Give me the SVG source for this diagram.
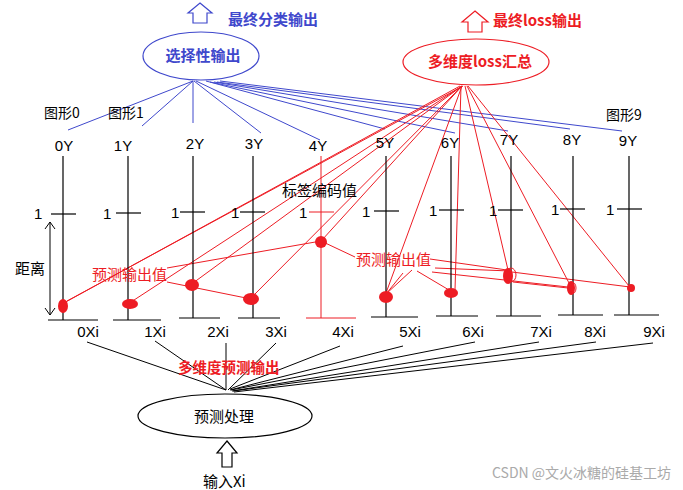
<svg xmlns="http://www.w3.org/2000/svg" width="683" height="490" viewBox="0 0 683 490">
<style>
text{font-family:"Liberation Sans","Noto Sans CJK SC",sans-serif;font-size:15px;fill:#000}
.cn{font-family:"Noto Sans CJK SC","Liberation Sans",sans-serif}
.b{font-weight:bold}
.blue{fill:#3f48cc}
.red{fill:#ed1c24}
.gray{fill:#aaa;font-size:14px}
.k{stroke:#000;stroke-width:1.2;fill:none}
.kl{stroke:#000;stroke-width:1;fill:none}
.bl{stroke:#3f48cc;stroke-width:1;fill:none}
.rl{stroke:#ed1c24;stroke-width:1;fill:none}
.dot{fill:#ed1c24}
.m{text-anchor:middle}
</style>
<rect width="683" height="490" fill="#fff"/>

<!-- connectors -->
<g id="connectors">
  <!-- blue: selective output to Y -->
  <g class="bl">
    <line x1="193" y1="81" x2="68" y2="130"/>
    <line x1="193" y1="81" x2="142" y2="126"/>
    <line x1="193" y1="81" x2="193" y2="123"/>
    <line x1="194" y1="81" x2="261" y2="133"/>
    <line x1="196" y1="81" x2="320" y2="140"/>
    <line x1="206" y1="81" x2="385" y2="129"/>
    <line x1="210" y1="82" x2="455" y2="133"/>
    <line x1="214" y1="82" x2="508" y2="131"/>
    <line x1="217" y1="82" x2="570" y2="129"/>
    <line x1="220" y1="81" x2="622" y2="131"/>
  </g>
  <!-- red: loss to predictions -->
  <g class="rl">
    <line x1="460" y1="86" x2="62" y2="304"/>
    <line x1="463" y1="86" x2="67" y2="301"/>
    <line x1="462" y1="86" x2="131" y2="302"/>
    <line x1="462" y1="86" x2="193" y2="283"/>
    <line x1="462" y1="86" x2="252" y2="297"/>
    <line x1="462" y1="86" x2="322" y2="240"/>
    <line x1="462" y1="86" x2="386" y2="293"/>
    <line x1="461" y1="86" x2="455" y2="290"/>
    <line x1="465" y1="86" x2="508" y2="270"/>
    <line x1="467" y1="86" x2="569" y2="283"/>
    <line x1="468" y1="86" x2="629" y2="286"/>
    <!-- prediction value labels -->
    <line x1="167" y1="268" x2="321" y2="241"/>
    <line x1="167" y1="282" x2="251" y2="299"/>
    <line x1="355" y1="257" x2="321" y2="241"/>
    <line x1="403" y1="273" x2="386" y2="294"/>
    <line x1="412" y1="270" x2="386" y2="294"/>
    <line x1="417" y1="271" x2="449" y2="290"/>
    <line x1="430" y1="259" x2="507" y2="270"/>
    <line x1="435" y1="268" x2="510" y2="271"/>
    <line x1="432" y1="272" x2="568" y2="287"/>
    <line x1="512" y1="272" x2="630" y2="287"/>
    <line x1="513" y1="282" x2="568" y2="288"/>
  </g>
  <!-- black: processing to Xi -->
  <g class="kl">
    <line x1="87" y1="342" x2="226" y2="390"/>
    <line x1="155" y1="341" x2="226" y2="390"/>
    <line x1="226" y1="343" x2="226" y2="390"/>
    <line x1="276" y1="343" x2="228" y2="390"/>
    <line x1="340" y1="346" x2="230" y2="389"/>
    <line x1="403" y1="346" x2="230" y2="390"/>
    <line x1="475" y1="342" x2="231" y2="390"/>
    <line x1="539" y1="342" x2="232" y2="391"/>
    <line x1="596" y1="342" x2="233" y2="391"/>
    <line x1="653" y1="343" x2="234" y2="392"/>
  </g>
</g>

<!-- top arrows and titles -->
<g id="final-class-output">
  <polygon points="200,3 212,13 207,13 207,23 193,23 193,13 188,13" fill="#fff" stroke="#3f48cc" stroke-width="1.2"/>
  <text class="cn b blue" x="228" y="25">最终分类输出</text>
</g>
<g id="final-loss-output">
  <polygon points="475,11 488,22 482,22 482,32 468,32 468,22 462,22" fill="#fff" stroke="#ed1c24" stroke-width="1.2"/>
  <text class="cn b red" x="493" y="26">最终loss输出</text>
</g>

<g id="select-output">
  <ellipse cx="201" cy="56" rx="58" ry="24" fill="none" stroke="#3f48cc" stroke-width="1.2"/>
  <text class="cn b blue m" x="203" y="61">选择性输出</text>
</g>
<g id="loss-sum">
  <ellipse cx="476" cy="62" rx="73" ry="23" fill="none" stroke="#ed1c24" stroke-width="1.2"/>
  <text class="cn b red m" x="480" y="67">多维度loss汇总</text>
</g>

<g id="shape-labels">
  <text class="cn" x="44" y="118" style="font-size:14px">图形0</text>
  <text class="cn" x="108" y="118" style="font-size:14px">图形1</text>
  <text class="cn" x="606" y="120" style="font-size:14px">图形9</text>
</g>

<!-- columns -->
<g id="col0">
  <text class="m" x="64" y="151">0Y</text>
  <line class="k" x1="63" y1="156" x2="63" y2="320"/>
  <line class="k" x1="51" y1="214" x2="76" y2="214"/>
  <text x="34" y="219">1</text>
  <line class="k" x1="48" y1="320" x2="98" y2="320"/>
  <text class="m" x="88" y="337">0Xi</text>
  <ellipse class="dot" cx="63" cy="306" rx="5" ry="7"/>
</g>
<g id="col1">
  <text class="m" x="123" y="151">1Y</text>
  <line class="k" x1="128" y1="156" x2="128" y2="320"/>
  <line class="k" x1="116" y1="213" x2="141" y2="213"/>
  <text x="103" y="219">1</text>
  <line class="k" x1="113" y1="320" x2="161" y2="320"/>
  <text class="m" x="155" y="337">1Xi</text>
  <ellipse class="dot" cx="130" cy="304" rx="8" ry="5"/>
</g>
<g id="col2">
  <text class="m" x="195" y="149">2Y</text>
  <line class="k" x1="193" y1="156" x2="193" y2="318"/>
  <line class="k" x1="180" y1="212" x2="205" y2="212"/>
  <text x="171" y="218">1</text>
  <line class="k" x1="179" y1="318" x2="220" y2="318"/>
  <text class="m" x="218" y="337">2Xi</text>
  <ellipse class="dot" cx="192" cy="285" rx="7" ry="6"/>
</g>
<g id="col3">
  <text class="m" x="254" y="149">3Y</text>
  <line class="k" x1="253" y1="156" x2="253" y2="318"/>
  <line class="k" x1="240" y1="212" x2="265" y2="212"/>
  <text x="231" y="218">1</text>
  <line class="k" x1="238" y1="318" x2="280" y2="318"/>
  <text class="m" x="276" y="337">3Xi</text>
  <ellipse class="dot" cx="251" cy="299" rx="8" ry="6"/>
</g>
<g id="col4">
  <text class="m" x="318" y="151">4Y</text>
  <line class="rl" x1="321" y1="156" x2="321" y2="318"/>
  <line class="rl" x1="309" y1="212" x2="334" y2="212"/>
  <text x="299" y="218">1</text>
  <line class="rl" x1="306" y1="318" x2="356" y2="318"/>
  <text class="m" x="343" y="337">4Xi</text>
  <ellipse class="dot" cx="321" cy="242" rx="6" ry="6"/>
</g>
<g id="col5">
  <text class="m" x="385" y="148">5Y</text>
  <line class="k" x1="386" y1="156" x2="386" y2="317"/>
  <line class="k" x1="374" y1="211" x2="399" y2="211"/>
  <text x="362" y="217">1</text>
  <line class="k" x1="371" y1="317" x2="418" y2="317"/>
  <text class="m" x="410" y="337">5Xi</text>
  <ellipse class="dot" cx="386" cy="297" rx="7" ry="6"/>
</g>
<g id="col6">
  <text class="m" x="450" y="148">6Y</text>
  <line class="k" x1="451" y1="156" x2="451" y2="316"/>
  <line class="k" x1="439" y1="210" x2="464" y2="210"/>
  <text x="429" y="216">1</text>
  <line class="k" x1="436" y1="316" x2="478" y2="316"/>
  <text class="m" x="473" y="337">6Xi</text>
  <ellipse class="dot" cx="451" cy="293" rx="7" ry="5"/>
</g>
<g id="col7">
  <text class="m" x="509" y="145">7Y</text>
  <line class="k" x1="511" y1="156" x2="511" y2="316"/>
  <line class="k" x1="498" y1="210" x2="523" y2="210"/>
  <text x="489" y="216">1</text>
  <line class="k" x1="496" y1="316" x2="541" y2="316"/>
  <text class="m" x="541" y="337">7Xi</text>
  <ellipse class="dot" cx="508" cy="276" rx="5" ry="8"/>
  <ellipse cx="511" cy="275" rx="5" ry="7" fill="none" stroke="#ed1c24" stroke-width="1"/>
</g>
<g id="col8">
  <text class="m" x="572" y="145">8Y</text>
  <line class="k" x1="573" y1="156" x2="573" y2="315"/>
  <line class="k" x1="560" y1="209" x2="585" y2="209"/>
  <text x="551" y="215">1</text>
  <line class="k" x1="558" y1="315" x2="603" y2="315"/>
  <text class="m" x="595" y="337">8Xi</text>
  <ellipse class="dot" cx="571" cy="288" rx="4" ry="7"/>
  <ellipse cx="572" cy="288" rx="4" ry="6" fill="none" stroke="#ed1c24" stroke-width="1"/>
</g>
<g id="col9">
  <text class="m" x="628" y="146">9Y</text>
  <line class="k" x1="629" y1="156" x2="629" y2="315"/>
  <line class="k" x1="617" y1="209" x2="642" y2="209"/>
  <text x="606" y="215">1</text>
  <line class="k" x1="614" y1="315" x2="659" y2="315"/>
  <text class="m" x="654" y="337">9Xi</text>
  <ellipse class="dot" cx="631" cy="288" rx="4" ry="4"/>
</g>

<g id="label-encoding">
  <text class="cn" x="282" y="196">标签编码值</text>
</g>
<g id="pred-label-left">
  <text class="cn red" x="92" y="280">预测输出值</text>
</g>
<g id="pred-label-right">
  <text class="cn red" x="356" y="265">预测输出值</text>
</g>

<g id="distance">
  <line class="kl" x1="50" y1="222" x2="50" y2="315"/>
  <polyline class="kl" points="45,229 50,222 55,229"/>
  <polyline class="kl" points="45,308 50,315 55,308"/>
  <text class="cn" x="15" y="274">距离</text>
</g>

<g id="multi-pred-output">
  <text class="cn b red" x="178" y="373" style="font-size:14.5px">多维度预测输出</text>
</g>

<g id="predict-process">
  <ellipse cx="225" cy="416" rx="87" ry="22" fill="none" stroke="#000" stroke-width="1.2"/>
  <text class="cn m" x="224" y="422">预测处理</text>
</g>

<g id="input-xi">
  <polygon points="227,441 237,453 232,453 232,467 222,467 222,453 217,453" fill="#fff" stroke="#000" stroke-width="1.2"/>
  <text class="cn" x="203" y="487">输入Xi</text>
</g>

<text class="cn gray" x="492" y="478">CSDN @文火冰糖的硅基工坊</text>
</svg>
